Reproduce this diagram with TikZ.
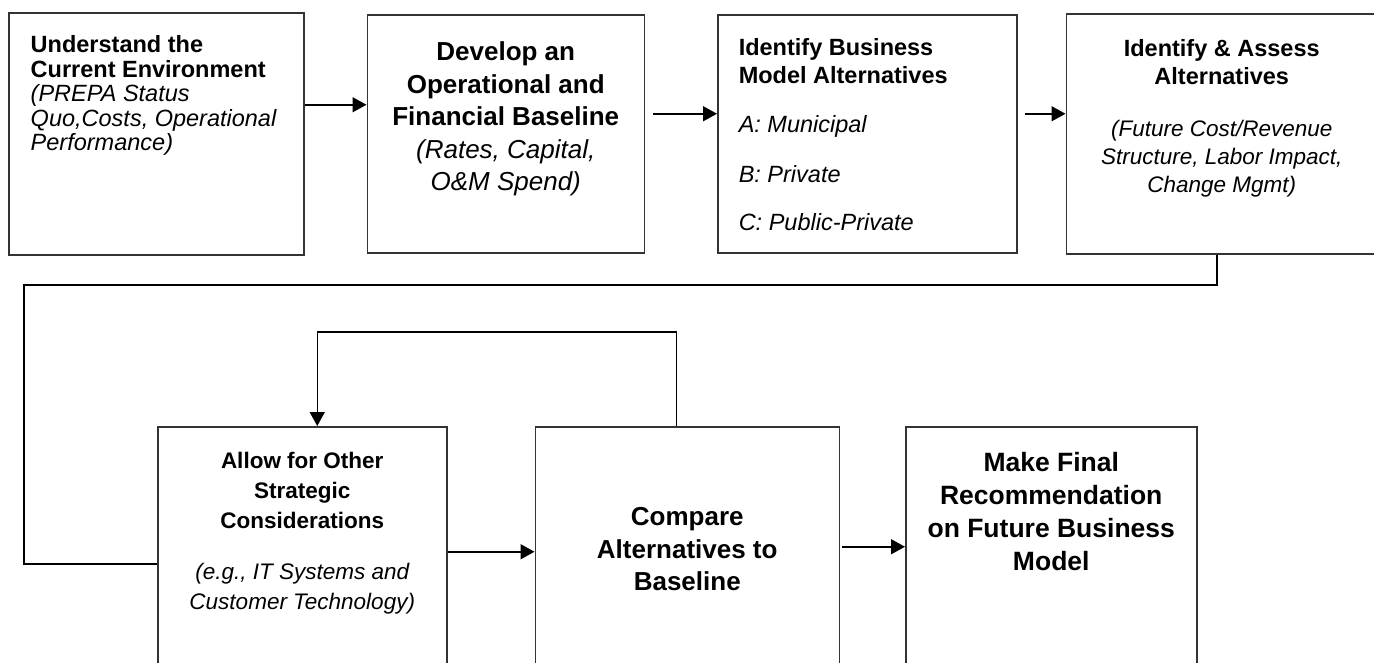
\documentclass[tikz,border=0pt]{standalone}
\usepackage{fontspec}
\setmainfont{Liberation Sans}
\usetikzlibrary{arrows.meta,positioning}

% width, height, top pad, alignment, text
\newcommand{\stagetext}[5]{\parbox[t][#2][t]{#1}{#4\vspace*{#3}#5}}

\begin{document}
\begin{tikzpicture}[%
        x=1pt, y=-1pt,
        >={Triangle[length=14pt,width=15pt]},
        line width=1.5pt,
        stage/.style={draw=black!80, inner sep=0pt},
        link/.style={->, black}
        ]
        \useasboundingbox (0,0) rectangle (1374,662);
        \clip (0,0) rectangle (1374,662);

        % top row
        \node[stage, anchor=north west] (b1) at (8,12) {\stagetext{295pt}{242pt}{23pt}{\raggedright\leftskip=22pt}{\fontsize{23.5}{24.5}\selectfont\bfseries Understand the\\ Current Environment\\ \mdseries\itshape (PREPA Status\\ Quo,Costs, Operational\\ Performance)}};
        \node[stage, right=62pt of b1] (b2) {\stagetext{277pt}{238pt}{27pt}{\centering}{\fontsize{26}{32.5}\selectfont\bfseries Develop an\\ Operational and\\ Financial Baseline\\ \mdseries\itshape (Rates, Capital,\\ O\&M Spend)}};
        \node[stage, right=72pt of b2] (b3) {\stagetext{299pt}{238pt}{24pt}{\raggedright\leftskip=21pt}{\fontsize{23.5}{28}\selectfont\bfseries Identify Business\\ Model Alternatives\\[21pt] \mdseries\itshape A: Municipal\\[22pt] B: Private\\[20pt] C: Public-Private}};
        \node[stage, right=48pt of b3] (b4) {\stagetext{311pt}{240pt}{26pt}{\centering}{\fontsize{23.5}{28}\selectfont\bfseries Identify \& Assess\\ Alternatives\\[24pt] \mdseries\itshape\fontsize{22.5}{28}\selectfont (Future Cost/Revenue\\ Structure, Labor Impact,\\ Change Mgmt)}};

        % bottom row
        \node[stage, anchor=north west] (b5) at (157,426) {\stagetext{289pt}{274pt}{25.5pt}{\centering}{\fontsize{22.5}{30}\selectfont\bfseries Allow for Other\\ Strategic\\ Considerations\\[21pt] \mdseries\itshape (e.g., IT Systems and\\ Customer Technology)}};
        \node[stage, right=87pt of b5] (b6) {\stagetext{304pt}{274pt}{81pt}{\centering}{\fontsize{26}{32.5}\selectfont\bfseries Compare\\ Alternatives to\\ Baseline}};
        \node[stage, right=65pt of b6] (b7) {\stagetext{291pt}{274pt}{25.7pt}{\centering}{\fontsize{26.5}{33}\selectfont\bfseries Make Final\\ Recommendation\\ on Future Business\\ Model}};

        \coordinate (wrap) at (24,285);

        \draw[link] ([yshift=29pt]b1.east) -- ([yshift=29pt]b2.west);
        \draw[link] ([xshift=8pt,yshift=20pt]b2.east) -- ([yshift=20pt]b3.west);
        \draw[link] ([xshift=7pt,yshift=20pt]b3.east) -- ([yshift=20pt]b4.west);
        \draw ([xshift=-5pt]b4.south) |- (wrap) |- (b5.west);
        \draw[link] ([yshift=12pt]b5.east) -- ([yshift=12pt]b6.west);
        \draw[link] ([xshift=2pt,yshift=17pt]b6.east) -- ([yshift=17pt]b7.west);
        % loop back
        \draw[link] ([xshift=-11pt]b6.north) -- ++(0,-94) -| ([xshift=15pt]b5.north);
\end{tikzpicture}
\end{document}
